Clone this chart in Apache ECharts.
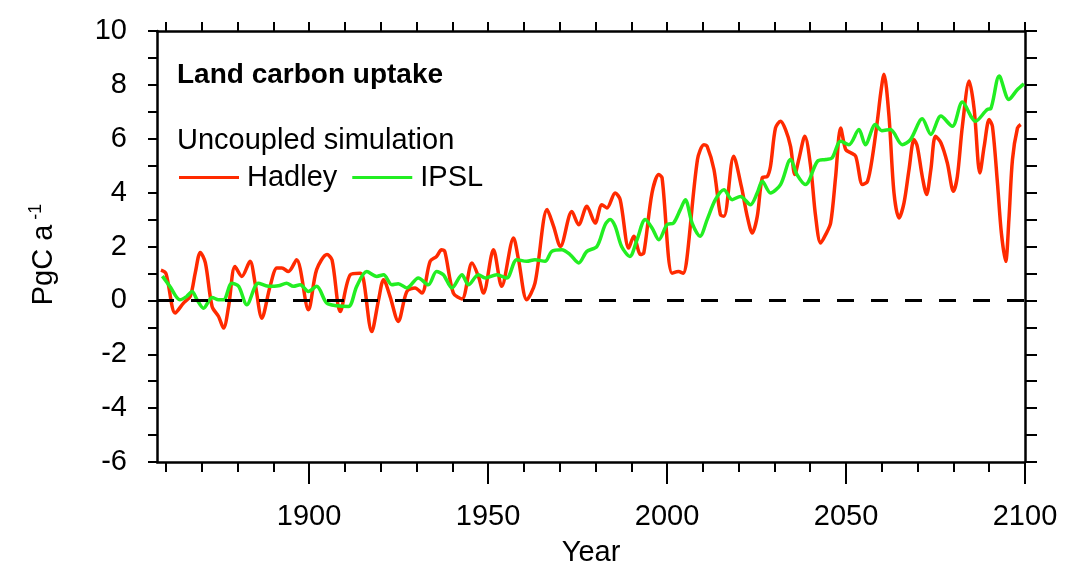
<!DOCTYPE html>
<html>
<head>
<meta charset="utf-8">
<script src="https://cdn.jsdelivr.net/npm/echarts@6/dist/echarts.min.js"></script>
<style>
  html, body { margin: 0; padding: 0; background: #fff; }
  #chart { width: 1073px; height: 569px; }
</style>
</head>
<body>
<div id="chart"></div>
<script>
// Land carbon uptake, uncoupled runs (PgC per year)
const hadleyYears = [1858.6,1860.0,1862.6,1864.9,1866.8,1868.2,1869.6,1871.0,1872.9,1874.7,1876.1,1877.5,1879.3,1881.2,1883.5,1884.9,1886.8,1889.1,1891.0,1892.4,1894.2,1896.5,1899.8,1902.1,1905.0,1906.4,1908.7,1911.5,1914.3,1915.2,1917.5,1919.4,1920.8,1922.6,1924.9,1927.3,1929.6,1931.5,1933.8,1935.6,1937.0,1937.9,1940.3,1942.7,1945.5,1947.3,1948.7,1951.5,1953.8,1957.1,1958.5,1960.8,1963.1,1966.5,1968.3,1970.2,1973.4,1975.3,1977.6,1979.9,1981.8,1983.2,1985.5,1986.9,1989.3,1990.7,1992.6,1993.5,1995.8,1997.7,1998.6,2001.4,2003.2,2004.5,2005.5,2008.5,2010.3,2011.2,2013.1,2014.9,2015.9,2018.6,2020.8,2022.4,2023.8,2025.2,2026.6,2028.0,2028.9,2030.3,2031.7,2033.1,2034.5,2035.7,2036.8,2038.5,2040.1,2041.5,2042.9,2044.3,2045.7,2047.1,2048.5,2049.9,2051.3,2052.7,2054.6,2056.0,2057.4,2058.8,2059.7,2060.6,2062.0,2063.4,2064.8,2066.2,2067.6,2069.0,2069.9,2071.3,2072.5,2073.7,2075.0,2076.5,2078.3,2080.0,2081.1,2082.5,2084.4,2085.8,2087.4,2088.6,2090.0,2090.9,2092.3,2093.4,2094.6,2095.5,2096.5,2097.9,2098.8];
const hadleyValues = [1.12,1.0,-0.47,-0.1,0.15,1.03,1.78,1.4,-0.23,-0.6,-1.03,-0.23,1.26,0.89,1.45,0.64,-0.66,0.52,1.2,1.2,1.07,1.51,-0.35,1.14,1.7,1.5,-0.41,0.95,1.01,0.77,-1.16,0.02,0.77,0.15,-0.78,0.33,0.46,0.27,1.45,1.63,1.88,1.82,0.27,0.05,1.39,0.89,0.27,1.88,0.52,2.32,1.51,0.02,0.64,3.37,2.75,2.0,3.3,2.81,3.49,2.87,3.55,3.43,3.99,3.74,1.94,2.38,1.7,1.76,3.99,4.67,4.55,1.01,1.07,1.01,1.51,5.23,5.78,5.72,4.86,3.18,3.12,5.35,4.2,3.12,2.5,3.12,4.55,4.6,4.98,6.4,6.65,6.34,5.72,4.67,5.23,6.09,4.98,3.12,2.13,2.44,2.87,4.6,6.4,5.6,5.48,5.35,4.3,4.42,5.35,6.71,7.71,8.39,6.84,3.99,3.06,3.62,4.86,5.97,5.72,4.6,3.93,4.86,6.09,5.85,5.1,4.05,4.6,6.46,8.14,7.09,4.73,5.72,6.71,6.46,4.36,2.5,1.45,3.0,5.23,6.4,6.53];

const ipslYears = [1859.0,1861.1,1863.9,1865.8,1867.3,1868.7,1870.5,1872.9,1874.7,1876.1,1878.4,1880.3,1882.6,1885.8,1888.6,1891.4,1893.7,1895.6,1897.5,1899.8,1902.1,1904.9,1907.8,1911.0,1913.3,1916.1,1918.9,1920.8,1923.1,1924.9,1927.3,1930.5,1933.3,1935.6,1937.5,1939.9,1942.7,1944.5,1947.3,1949.2,1952.4,1955.2,1958.0,1960.8,1963.1,1965.9,1967.8,1970.6,1972.9,1975.3,1977.6,1980.4,1982.7,1984.1,1985.5,1987.3,1989.6,1991.6,1993.9,1995.8,1997.7,2000.0,2001.8,2003.7,2005.1,2007.0,2009.2,2011.2,2013.5,2015.9,2018.2,2020.5,2023.3,2025.2,2026.6,2028.9,2031.7,2034.5,2036.3,2038.7,2042.0,2044.3,2046.1,2048.5,2050.8,2053.6,2055.4,2058.2,2060.0,2062.4,2065.7,2068.0,2071.3,2073.7,2076.5,2079.7,2082.5,2086.2,2089.5,2090.4,2092.8,2095.5,2097.9,2099.7];
const ipslValues = [0.9,0.52,0.02,0.15,0.33,0.02,-0.29,0.11,0.02,0.02,0.64,0.52,-0.16,0.64,0.52,0.54,0.64,0.52,0.58,0.33,0.52,-0.1,-0.2,-0.23,0.52,1.07,0.89,0.95,0.58,0.62,0.46,0.83,0.58,1.07,0.95,0.46,0.95,0.58,0.95,0.83,0.95,0.83,1.51,1.45,1.51,1.45,1.82,1.88,1.7,1.39,1.82,2.0,2.81,3.0,2.75,2.0,1.63,2.25,3.0,2.69,2.25,2.81,2.87,3.37,3.74,2.87,2.38,3.0,3.74,4.11,3.74,3.86,3.55,3.99,4.42,3.99,4.3,5.23,4.67,4.3,5.16,5.23,5.29,5.91,5.78,6.34,5.78,6.53,6.3,6.34,5.78,5.97,6.74,6.16,6.84,6.46,7.36,6.65,7.09,7.11,8.33,7.46,7.83,8.04];

const yearLabels = [1900, 1950, 2000, 2050, 2100];
const decadeTicks = [1860,1870,1880,1890,1900,1910,1920,1930,1940,1950,1960,1970,1980,1990,2000,2010,2020,2030,2040,2050,2060,2070,2080,2090,2100];

const X_MIN = 1857.5, X_MAX = 2100;
const FONT = '"Liberation Sans", Arial, Helvetica, sans-serif';
const BLACK = '#000';

function pairs(xs, ys) { return xs.map((x, i) => [x, ys[i]]); }

const chart = echarts.init(document.getElementById('chart'), null, { renderer: 'canvas' });

const axisLine = { show: true, onZero: false, lineStyle: { color: BLACK, width: 2.5 } };
const tickStyle = { color: BLACK, width: 2 };

chart.setOption({
  animation: false,
  backgroundColor: '#fff',
  textStyle: { fontFamily: FONT, color: BLACK },
  title: [
    { text: 'Land carbon uptake', left: 172, top: 56,
      textStyle: { fontFamily: FONT, fontSize: 28, fontWeight: 'bold', color: BLACK } },
    { text: 'Uncoupled simulation', left: 172, top: 121,
      textStyle: { fontFamily: FONT, fontSize: 29, fontWeight: 'normal', color: BLACK } }
  ],
  legend: {
    left: 174, top: 158,
    icon: 'rect', itemWidth: 60, itemHeight: 3, itemGap: 15,
    textStyle: { fontFamily: FONT, fontSize: 29, color: BLACK, padding: [0, 0, 0, 3] },
    data: ['Hadley', 'IPSL']
  },
  grid: { left: 157, right: 48, top: 31, bottom: 107, containLabel: false, outerBoundsMode: 'none' },
  xAxis: [
    { // bottom axis: labels and 50-year ticks
      type: 'value', position: 'bottom', min: X_MIN, max: X_MAX,
      axisLine: axisLine,
      axisTick: { show: true, inside: false, length: 22, lineStyle: tickStyle, customValues: yearLabels },
      axisLabel: { show: true, margin: 40, fontSize: 29, fontFamily: FONT, color: BLACK,
        customValues: yearLabels, formatter: v => String(v) },
      splitLine: { show: false },
      name: 'Year', nameLocation: 'middle', nameGap: 76,
      nameTextStyle: { fontSize: 29, fontFamily: FONT, color: BLACK }
    },
    { // bottom axis: decade ticks
      type: 'value', position: 'bottom', min: X_MIN, max: X_MAX,
      axisLine: { show: false, onZero: false },
      axisTick: { show: true, inside: false, length: 10, lineStyle: tickStyle, customValues: decadeTicks },
      axisLabel: { show: false },
      splitLine: { show: false }
    },
    { // top axis: decade ticks
      type: 'value', position: 'top', min: X_MIN, max: X_MAX,
      axisLine: axisLine,
      axisTick: { show: true, inside: false, length: 9, lineStyle: tickStyle, customValues: decadeTicks },
      axisLabel: { show: false },
      splitLine: { show: false }
    }
  ],
  yAxis: [
    {
      type: 'value', position: 'left', min: -6, max: 10, interval: 1,
      axisLine: axisLine,
      axisTick: { show: true, inside: false, length: 9, lineStyle: tickStyle },
      axisLabel: { show: true, margin: 30, fontSize: 29, fontFamily: FONT, color: BLACK,
        formatter: v => (Math.abs(v % 2) === 0 ? String(v) : '') },
      splitLine: { show: false },
      name: '{a|PgC a}{s| -1}', nameLocation: 'middle', nameGap: 96,
      nameTextStyle: {
        padding: [0, 16, 0, 0],
        rich: {
          a: { fontSize: 29, fontFamily: FONT, color: BLACK },
          s: { fontSize: 18, fontFamily: FONT, color: BLACK, verticalAlign: 'top', padding: [0, 0, 16, 0] }
        }
      }
    },
    {
      type: 'value', position: 'right', min: -6, max: 10, interval: 1,
      axisLine: axisLine,
      axisTick: { show: true, inside: false, length: 12, lineStyle: tickStyle },
      axisLabel: { show: false },
      splitLine: { show: false }
    }
  ],
  series: [
    {
      name: 'Hadley', type: 'line', xAxisIndex: 0, yAxisIndex: 0,
      data: pairs(hadleyYears, hadleyValues),
      smooth: 0.3, showSymbol: false, symbol: 'none',
      lineStyle: { color: '#ff2a00', width: 3.5 }, itemStyle: { color: '#ff2a00' },
      markLine: {
        silent: true, symbol: ['none', 'none'], label: { show: false },
        lineStyle: { color: BLACK, width: 3, type: [17, 17] },
        data: [{ yAxis: 0 }],
        animation: false
      },
      z: 3
    },
    {
      name: 'IPSL', type: 'line', xAxisIndex: 0, yAxisIndex: 0,
      data: pairs(ipslYears, ipslValues),
      smooth: 0.3, showSymbol: false, symbol: 'none',
      lineStyle: { color: '#22ee22', width: 3.5 }, itemStyle: { color: '#22ee22' },
      z: 4
    }
  ]
});
</script>
</body>
</html>
